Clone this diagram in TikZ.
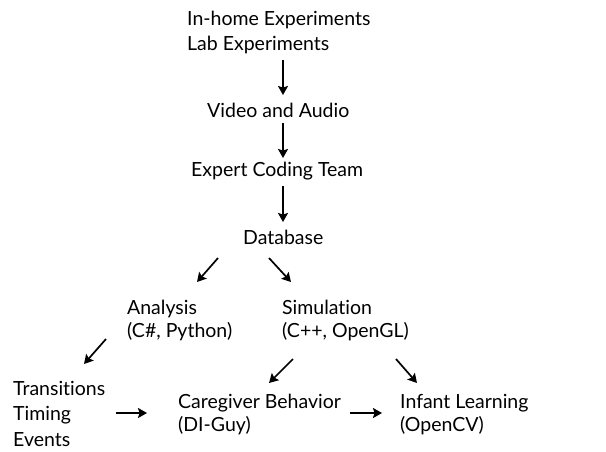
\documentclass[tikz,border=0pt]{standalone}
\usepackage{fontspec}
\setmainfont{Lato}[Ligatures=CommonOff]
\usetikzlibrary{arrows.meta}

\begin{document}
\begin{tikzpicture}[x=1pt,y=-1pt,
					step box/.style={anchor=base west, inner sep=0pt, align=left, font=\fontsize{19.5}{24.5}\selectfont},
					flow arrow/.style={line width=1.7pt, -{Stealth[length=9pt,width=10pt,inset=1.5pt]}},
				]
					\useasboundingbox (0,0) rectangle (606,451);
					
					\node[step box] (exp) at (187,50) {In-home Experiments\\Lab Experiments};
					\node[step box] (video) at (207,117) {Video and Audio};
					\node[step box] (coding) at (191,176) {Expert Coding Team};
					\node[step box] (db) at (243,244) {Database};
					\node[step box, font=\fontsize{19.5}{23}\selectfont] (ana) at (127,337) {Analysis\\(C\#, Python)};
					\node[step box, font=\fontsize{19.5}{23}\selectfont] (sim) at (282,337) {Simulation\\(C++, OpenGL)};
					\node[step box, font=\fontsize{19.5}{25.5}\selectfont] (trans) at (13,446) {Transitions\\Timing\\Events};
					\node[step box, font=\fontsize{19.5}{23}\selectfont] (care) at (178,431) {Caregiver Behavior\\(DI-Guy)};
					\node[step box, font=\fontsize{19.5}{23}\selectfont] (inf) at (400,431) {Infant Learning\\(OpenCV)};
					
					\draw[flow arrow] ([shift={(96,10)}]exp.base west) -- ([shift={(76,-22)}]video.base west);
					\draw[flow arrow] ([shift={(76,6)}]video.base west) -- ([shift={(92,-18)}]coding.base west);
					\draw[flow arrow] ([shift={(92,10)}]coding.base west) -- ([shift={(40,-22)}]db.base west);
					\draw[flow arrow] ([shift={(-25,14)}]db.base west) -- ([shift={(70,-55)}]ana.base west);
					\draw[flow arrow] ([shift={(26,14)}]db.base west) -- ([shift={(9,-55)}]sim.base west);
					\draw[flow arrow] ([shift={(-21,2)}]ana.base west) -- ([shift={(71,-82)}]trans.base west);
					\draw[flow arrow] ([shift={(11,22)}]sim.base west) -- ([shift={(91,-48)}]care.base west);
					\draw[flow arrow] ([shift={(114,22)}]sim.base west) -- ([shift={(17,-48)}]inf.base west);
					\draw[flow arrow] ([shift={(103,-33)}]trans.base west) -- ([shift={(-31,-18)}]care.base west);
					\draw[flow arrow] ([shift={(172,-18)}]care.base west) -- ([shift={(-18,-18)}]inf.base west);
				\end{tikzpicture}
\end{document}
